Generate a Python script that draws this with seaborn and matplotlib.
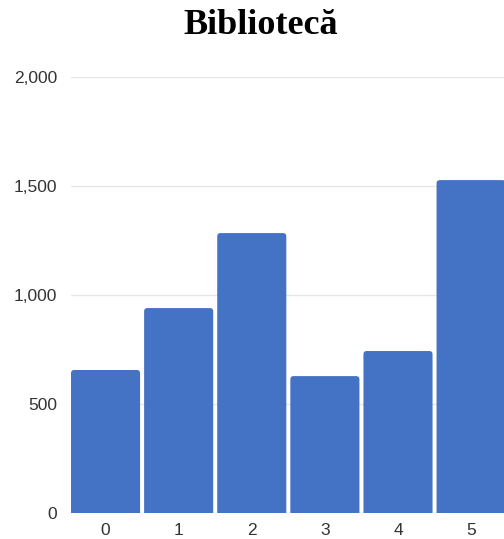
import matplotlib
matplotlib.use("Agg")
import matplotlib.pyplot as plt
from matplotlib.patches import FancyBboxPatch
import pandas as pd
import seaborn as sns

categories = ["0", "1", "2", "3", "4", "5"]
values = [656, 940, 1284, 628, 743, 1527]
y_ticks = [0, 500, 1000, 1500, 2000]

sns.set_theme(style="white")
plt.rcParams["font.family"] = ["Liberation Sans", "DejaVu Sans"]

df = pd.DataFrame({"cat": categories, "val": values})

fig = plt.figure(figsize=(5.04, 5.39), dpi=100)
ax = fig.add_axes([71 / 504, 26 / 539, 433 / 504, 436 / 539])

sns.barplot(data=df, x="cat", y="val", color="#4472C4", width=0.945,
            saturation=1, edgecolor="none", linewidth=0, ax=ax, zorder=2)

# swap the plain rectangles for ones with softly rounded tops
aspect = (2000 / 436) * 73
for p in list(ax.patches):
    x, y, w, h = p.get_x(), p.get_y(), p.get_width(), p.get_height()
    rb = FancyBboxPatch((x, y - 30), w, h + 30,
                        boxstyle="round,pad=0,rounding_size=0.045",
                        mutation_aspect=aspect, facecolor="#4472C4",
                        edgecolor="none", zorder=2)
    p.remove()
    ax.add_patch(rb)

ax.set_xlim(-0.4725, 5.45)
ax.set_ylim(0, 2000)
ax.set_yticks(y_ticks)
ax.set_yticklabels([f"{v:,}" for v in y_ticks])
ax.yaxis.grid(True, color="#e6e6e6", linewidth=1, zorder=0)
ax.set_axisbelow(True)
ax.set_xlabel("")
ax.set_ylabel("")
for s in ax.spines.values():
    s.set_visible(False)
ax.tick_params(axis="both", length=0, labelsize=12.5, labelcolor="#333333")
ax.tick_params(axis="y", pad=10)
ax.tick_params(axis="x", pad=7)

fig.text(261 / 504, 1 - 25 / 539, "Bibliotecă", ha="center", va="center",
         fontsize=26, fontweight="bold", family=["Liberation Serif", "DejaVu Serif"],
         color="black")

fig.savefig("out.png", dpi=100)
